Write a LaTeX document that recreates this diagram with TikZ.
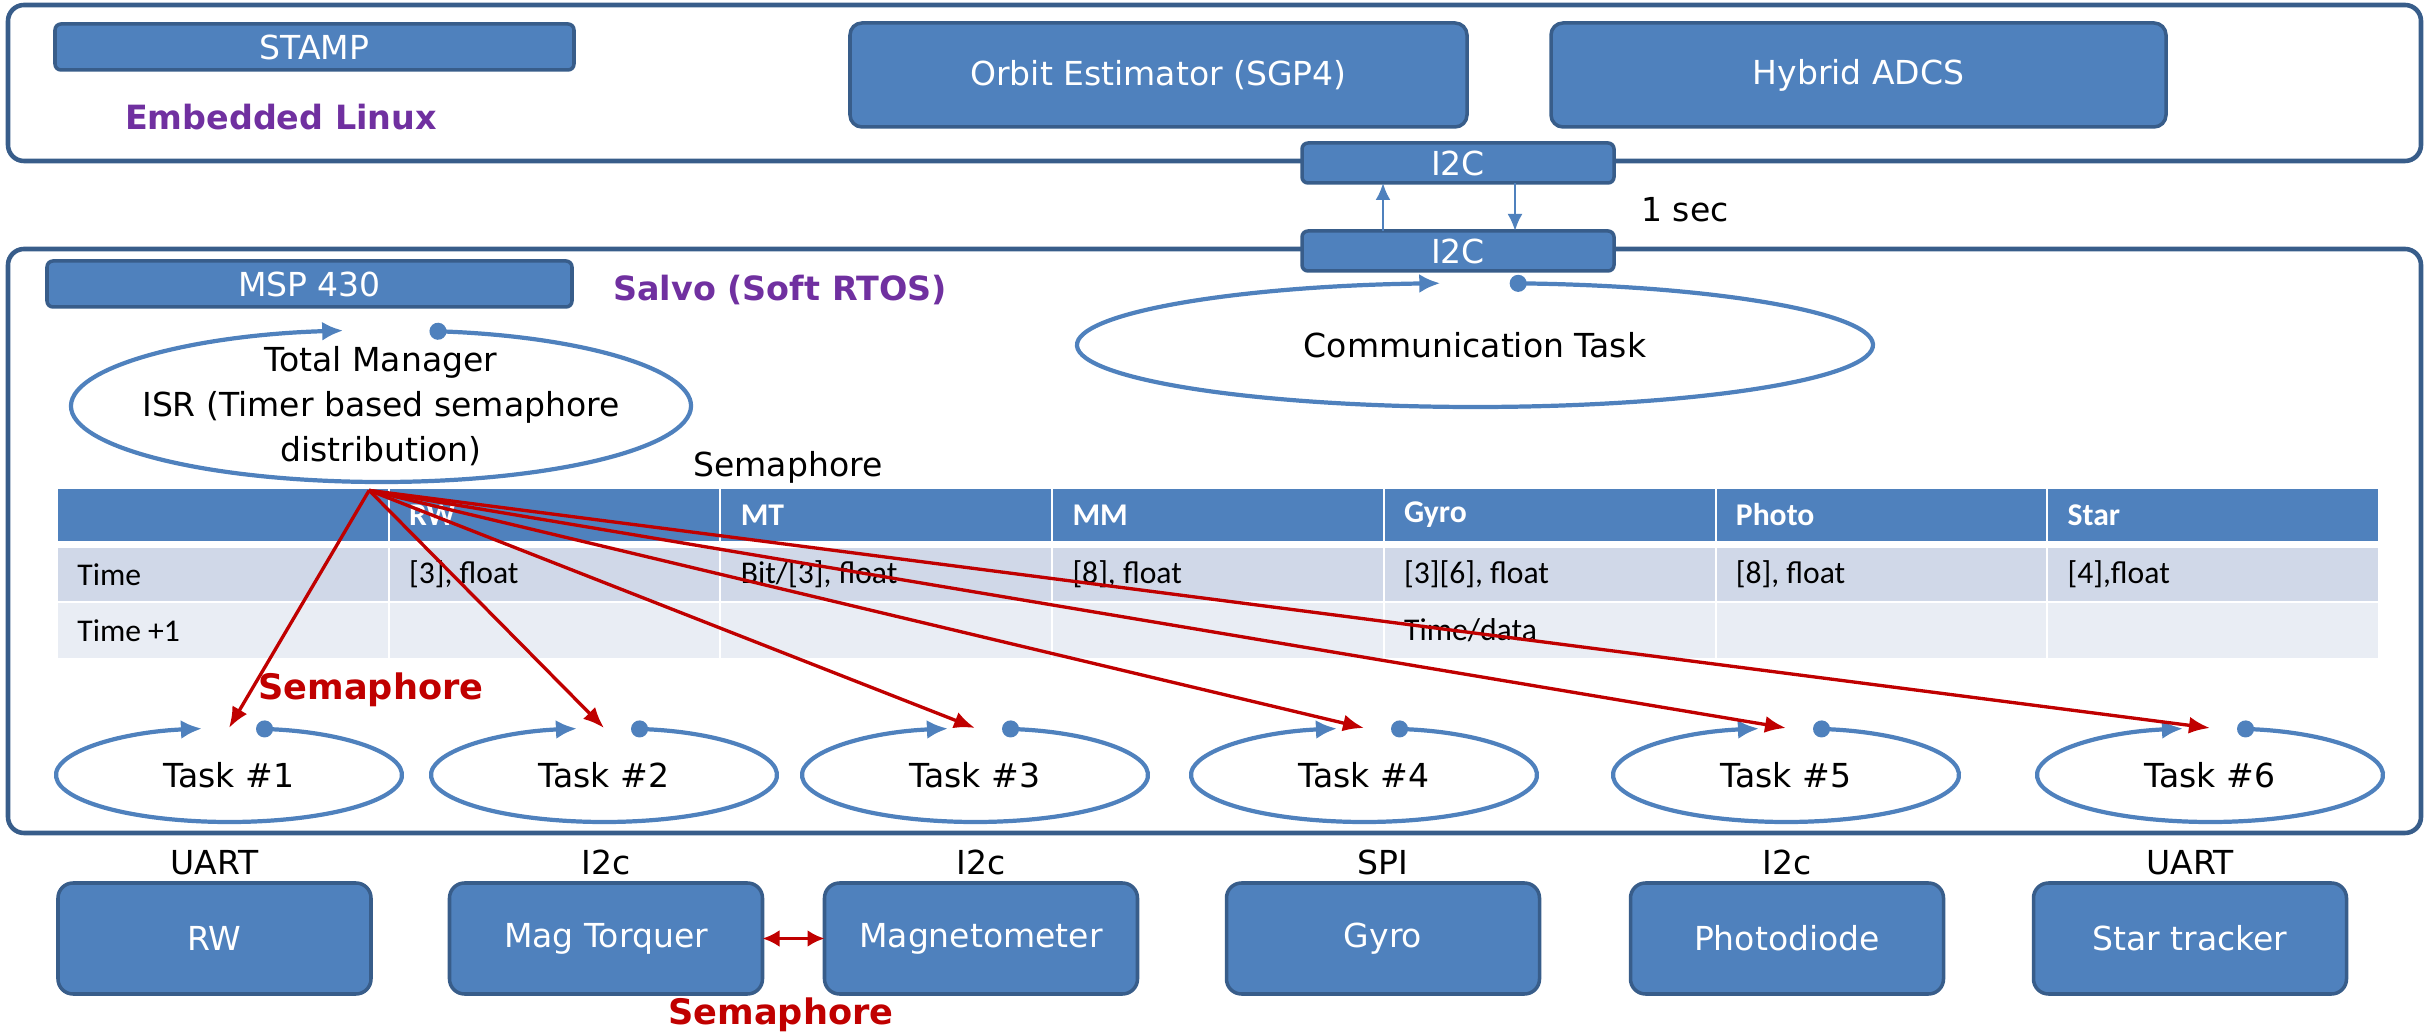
\documentclass[tikz,border=0pt]{standalone}
\usepackage{fontspec}
\setmainfont{DejaVu Sans}
\newfontfamily\tabfont{Carlito}
\usepackage{tikz}
\usetikzlibrary{arrows.meta,positioning,shapes.geometric,calc}
\definecolor{boxblue}{HTML}{4F81BD}
\definecolor{edgeblue}{HTML}{385D8A}
\definecolor{hdpurple}{HTML}{7030A0}
\definecolor{semred}{HTML}{C00000}
\definecolor{rowa}{HTML}{D0D8E8}
\definecolor{rowb}{HTML}{E9EDF4}

\begin{document}
\begin{tikzpicture}[
  font=\fontsize{9.4}{12.8}\selectfont,
  frame/.style={draw=edgeblue,line width=1.3pt,rounded corners=0.16cm},
  blk/.style={draw=edgeblue,fill=boxblue,line width=1pt,rounded corners=0.12cm,text=white,inner sep=0pt,outer sep=0pt},
  bar/.style={blk,rounded corners=0.06cm,minimum height=0.46cm},
  dev/.style={blk,rounded corners=0.15cm,minimum width=3.13cm,minimum height=1.11cm},
  oval/.style={ellipse,inner sep=0pt,outer sep=0pt,align=center},
  cyc/.style={draw=boxblue,line width=1.2pt,{Circle[length=1.7mm]}-{Latex[length=2.1mm,width=1.9mm]}},
  sem/.style={draw=semred,line width=0.95pt,-{Latex[length=2.1mm,width=1.7mm]}},
  ttl/.style={text=hdpurple,font=\fontsize{9.5}{11}\selectfont\bfseries},
  redtxt/.style={text=semred,font=\fontsize{10}{12}\selectfont\bfseries},
  hd/.style={text=white,font=\tabfont\fontsize{9}{10}\selectfont\bfseries,anchor=west},
  cell/.style={font=\tabfont\fontsize{9}{10}\selectfont,anchor=west},
  bus/.style={inner sep=2pt}
]
\useasboundingbox (0,0) rectangle (24.32,10.36);

% Embedded Linux side
\draw[frame] (0.08,8.75) rectangle (24.21,10.31);
\node[bar,minimum width=5.19cm] (stamp) at (3.145,9.89) {STAMP};
\node[ttl] (linux) at (2.81,9.19) {Embedded Linux};
\node[blk,minimum width=6.17cm,minimum height=1.04cm] (orbit) at (11.585,9.61) {Orbit Estimator (SGP4)};
\node[blk,minimum width=6.15cm,minimum height=1.04cm] (adcs) at (18.585,9.61) {Hybrid ADCS};

% Salvo side
\draw[frame] (0.08,2.03) rectangle (24.21,7.87);
\node[bar,minimum width=5.25cm] (msp) at (3.095,7.52) {MSP 430};
\node[ttl] (salvo) at (7.80,7.46) {Salvo (Soft RTOS)};

% I2C link
\node[bar,minimum width=3.12cm,minimum height=0.40cm] (i2ct) at (14.58,8.73) {I2C};
\node[bar,minimum width=3.12cm,minimum height=0.40cm] (i2cb) at (14.58,7.85) {I2C};
\draw[boxblue,line width=0.7pt,-{Latex[length=1.7mm,width=1.5mm]}] ([xshift=-0.75cm]i2cb.north) -- ([xshift=-0.75cm]i2ct.south);
\draw[boxblue,line width=0.7pt,-{Latex[length=1.7mm,width=1.5mm]}] ([xshift=0.57cm]i2ct.south) -- ([xshift=0.57cm]i2cb.north);
\node (sec) at (16.85,8.26) {1 sec};

% tasks in the RTOS
\node[oval,minimum width=6.2cm,minimum height=1.52cm] (tm) at (3.81,6.30) {Total Manager\\ISR (Timer based semaphore\\distribution)};
\draw[cyc] ([shift={(81:3.10 and 0.76)}]tm.center) arc[start angle=81,end angle=-263,x radius=3.10,y radius=0.76];
\node[oval,minimum width=7.96cm,minimum height=1.24cm] (comm) at (14.75,6.91) {Communication Task};
\draw[cyc] ([shift={(85:3.98 and 0.62)}]comm.center) arc[start angle=85,end angle=-265,x radius=3.98,y radius=0.62];
\node (semlbl) at (7.88,5.69) {Semaphore};

% semaphore table
\foreach \c in {0,...,6} {
  \fill[boxblue] (0.58+\c*3.317,4.95) rectangle ++(3.297,0.52);
  \fill[rowa] (0.58+\c*3.317,4.35) rectangle ++(3.297,0.53);
  \fill[rowb] (0.58+\c*3.317,3.78) rectangle ++(3.297,0.55);
}
\foreach \c/\t in {1/RW,2/MT,3/MM,4/Gyro,5/Photo,6/Star}
  \node[hd] (h\c) at (0.65+\c*3.317,5.21) {\t};
\foreach \c/\t in {0/Time,1/{[3], float},2/{Bit/[3], float},3/{[8], float},4/{[3][6], float},5/{[8], float},6/{[4],float}}
  \node[cell] (ra\c) at (0.65+\c*3.317,4.615) {\t};
\node[cell] (rb0) at (0.65,4.055) {Time +1};
\node[cell] (rb4) at (0.65+4*3.317,4.055) {Time/data};

\foreach \i/\x in {1/2.29,2/6.04,3/9.75,4/13.64,5/17.86,6/22.10} {
  \node[oval,minimum width=3.46cm,minimum height=0.94cm] (t\i) at (\x,2.61) {Task \#\i};
  \draw[cyc] ([shift={(81:1.73 and 0.47)}]t\i.center) arc[start angle=81,end angle=-261,x radius=1.73,y radius=0.47];
}
\foreach \i in {1,...,6}
  \draw[sem] (tm.262) -- (t\i.north);
\node[redtxt] (semtask) at (3.71,3.46) {Semaphore};

% sensors and actuators
\node[dev] (rw) at (2.145,0.975) {RW};
\node[dev] (mt) at (6.06,0.975) {Mag Torquer};
\node[dev] (mm) at (9.81,0.975) {Magnetometer};
\node[dev] (gyro) at (13.83,0.975) {Gyro};
\node[dev] (photo) at (17.87,0.975) {Photodiode};
\node[dev] (star) at (21.90,0.975) {Star tracker};
\node[bus,above=0pt of rw] (rwbus) {UART};
\node[bus,above=0pt of mt] (mtbus) {I2c};
\node[bus,above=0pt of mm] (mmbus) {I2c};
\node[bus,above=0pt of gyro] (gyrobus) {SPI};
\node[bus,above=0pt of photo] (photobus) {I2c};
\node[bus,above=0pt of star] (starbus) {UART};
\draw[semred,line width=0.95pt,{Latex[length=1.7mm,width=1.7mm]}-{Latex[length=1.7mm,width=1.7mm]}] (mt) -- (mm);
\node[redtxt] (semdev) at (7.81,0.21) {Semaphore};
\end{tikzpicture}
\end{document}
